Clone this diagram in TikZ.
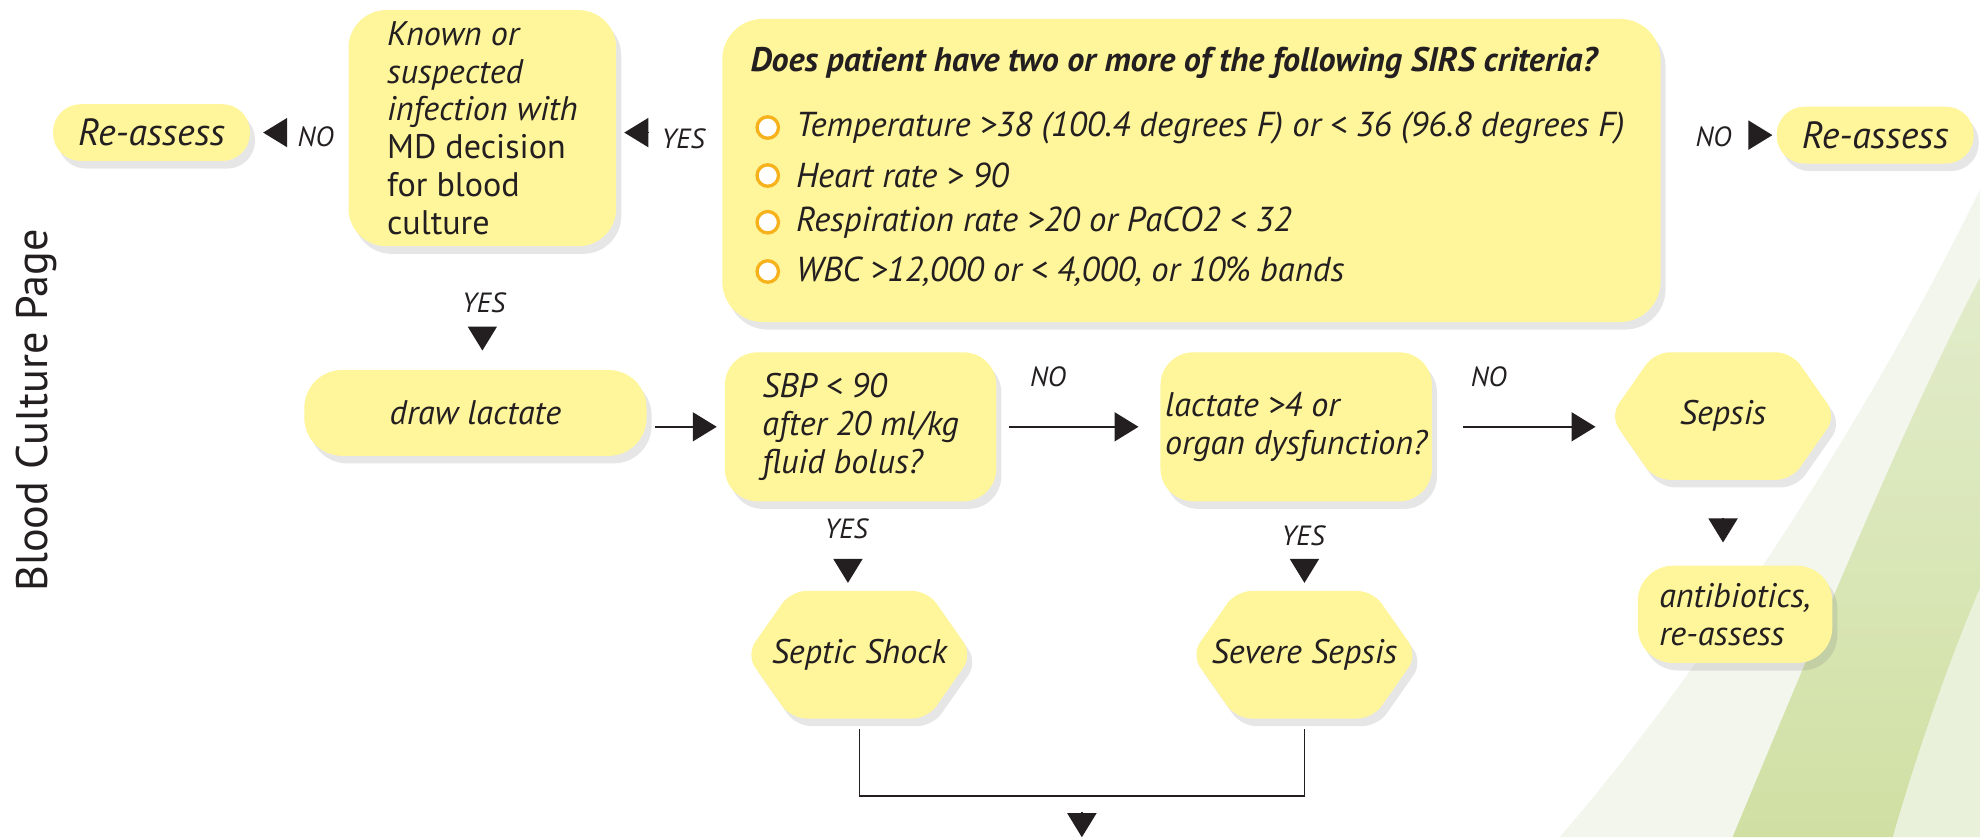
\documentclass[tikz,border=0pt]{standalone}
\usepackage{fontspec}
\setmainfont{PT Sans}
\usetikzlibrary{arrows.meta,shapes.symbols,shadows,calc}

\definecolor{boxyellow}{RGB}{255,245,155}
\definecolor{ink}{RGB}{35,31,32}
\definecolor{dotorange}{RGB}{247,178,27}
\definecolor{leafpale}{RGB}{243,246,237}
\definecolor{leafmid}{RGB}{226,236,203}
\definecolor{leafdeep}{RGB}{208,224,163}
\definecolor{leaflight}{RGB}{234,241,218}
\newcommand{\boxfont}{\fontsize{13.5}{15}\selectfont}

\tikzset{
  shade box/.style={drop shadow={shadow xshift=2pt, shadow yshift=-3pt, opacity=0.16, fill=black!60}},
  box/.style={fill=boxyellow, shade box, rounded corners=14pt, inner sep=0pt, align=left, text=ink, font=\boxfont\itshape},
  pill/.style={box, rounded corners=11pt, font=\fontsize{15}{17}\selectfont\itshape},
  hexa/.style={signal, signal to=west and east, signal pointer angle=110, fill=boxyellow, shade box, rounded corners=6pt, inner xsep=-15pt, inner ysep=0pt, text=ink, font=\boxfont\itshape, minimum width=89.5pt, minimum height=50.5pt},
  lbl/.style={text=ink, font=\fontsize{11}{13}\selectfont\itshape, inner sep=0pt},
  item/.style={anchor=west, text=ink, font=\fontsize{13.7}{15}\selectfont\itshape, inner sep=0pt},
  dot/.style={circle, draw=dotorange, fill=white, line width=1.3pt, minimum size=8.5pt, inner sep=0pt},
  tip/.style={draw=ink, line width=0.6pt, -{Triangle[length=9.5pt,width=11.5pt]}},
  line/.style={draw=ink, line width=0.6pt},
}

\begin{document}
\begin{tikzpicture}[x=0.5pt,y=-0.5pt]
\useasboundingbox (0,0) rectangle (1568,663);

% green leaves in the corner
\fill[leafpale] (1568,150) .. controls (1480,330) and (1350,530) .. (1235,663) -- (1568,663) -- cycle;
\shade[top color=leafmid, bottom color=leafdeep] (1568,220) .. controls (1510,330) and (1440,500) .. (1372,663) -- (1499,663) .. controls (1520,590) and (1545,520) .. (1568,466) -- cycle;
\fill[leaflight] (1568,466) .. controls (1545,520) and (1520,590) .. (1499,663) -- (1568,663) -- cycle;

\node[rotate=90, font=\fontsize{17.5}{20}\selectfont, text=ink] (page) at (29,325) {Blood Culture Page};

% top row
\node[pill, minimum width=78pt, minimum height=22.5pt] (reL) at (120,105) {Re-assess};
\node[box, rounded corners=15pt, minimum width=106pt, minimum height=93.5pt] (known) at (382,101.5) {Known or\\suspected\\infection with\\\upshape MD decision\\\upshape for blood\\\upshape culture};
\node[box, rounded corners=16pt, minimum width=371.5pt, minimum height=120pt] (sirs) at (943.5,135) {};
\node[pill, minimum width=78pt, minimum height=22.5pt] (reR) at (1485,107) {Re-assess};

\node[item, font=\fontsize{13.5}{15}\selectfont\bfseries\itshape] (ask) at (594,50) {Does patient have two or more of the following SIRS criteria?};
\node[dot] (d1) at (608,101) {};
\node[item] (t1) at (630,101) {Temperature >38 (100.4 degrees F) or < 36 (96.8 degrees F)};
\node[dot] (d2) at (608,139) {};
\node[item] (t2) at (630,139) {Heart rate > 90};
\node[dot] (d3) at (608,176) {};
\node[item] (t3) at (630,176) {Respiration rate >20 or PaCO2 < 32};
\node[dot] (d4) at (608,215) {};
\node[item] (t4) at (630,215) {WBC >12,000 or < 4,000, or 10\% bands};

% middle row
\node[box, rounded corners=15pt, align=center, minimum width=135.5pt, minimum height=34pt] (dl) at (376.5,327) {draw lactate};
\node[box, rounded corners=13pt, minimum width=107.5pt, minimum height=59pt] (sbp) at (681.5,338) {SBP < 90\\after 20 ml/kg\\fluid bolus?};
\node[box, rounded corners=13pt, minimum width=107.5pt, minimum height=59pt] (lac) at (1026.5,338) {lactate >4 or\\organ dysfunction?};
\node[hexa] (sepsis) at (1364.5,329.5) {Sepsis};

% bottom row
\node[hexa] (shock) at (680.5,518.5) {Septic Shock};
\node[hexa] (severe) at (1033,518.5) {Severe Sepsis};
\node[box, rounded corners=14pt, minimum width=77pt, minimum height=38.5pt] (abx) at (1374,486.5) {antibiotics,\\re-assess};

% labels
\node[lbl] (noL) at (250,108) {NO};
\node[lbl] (yesT) at (541,110) {YES};
\node[lbl] (noR) at (1357,108) {NO};
\node[lbl] (yesK) at (383,240) {YES};
\node[lbl] (noS) at (830,298) {NO};
\node[lbl] (noC) at (1179,298) {NO};
\node[lbl] (yesS) at (670,419) {YES};
\node[lbl] (yesC) at (1032,424) {YES};

% connectors
\draw[tip, shorten <=24.5pt, shorten >=5pt] (known.west |- reL.east) -- (reL.east);
\draw[tip, shorten <=29pt, shorten >=3pt] (sirs.west |- reL.east) -- (known.east |- reL.east);
\draw[tip, shorten <=35pt, shorten >=1.5pt] (sirs.east |- reR.west) -- (reR.west);
\draw[tip, shorten <=32.5pt, shorten >=7.5pt] (known.south) -- (known.south |- dl.north);
\draw[tip, shorten <=3pt, shorten >=3pt] (dl.east |- sbp.west) -- (sbp.west);
\draw[tip, shorten <=5pt, shorten >=8.5pt] (sbp.east) -- (lac.west);
\draw[tip, shorten <=12pt, shorten >=5.5pt] (lac.east) -- (lac.east -| sepsis.west);
\draw[tip, shorten <=22.5pt, shorten >=3pt] ([xshift=-4.5pt]shock.north |- sbp.south) -- ([xshift=-4.5pt]shock.north);
\draw[tip, shorten <=22.5pt, shorten >=3pt] (severe.north |- lac.south) -- (severe.north);
\draw[tip, shorten <=15pt, shorten >=9pt] (sepsis.south) -- (sepsis.south |- abx.north);

\draw[line] ([yshift=-4pt]shock.south) -- ++(0,53) coordinate (jl) -| ([yshift=-4pt]severe.south);
\coordinate (mid) at ($(jl)!0.5!(jl -| severe.south)$);
\coordinate (next) at (858,663);
\draw[tip, shorten <=6.5pt] (mid) -- (mid |- next);
\end{tikzpicture}
\end{document}
